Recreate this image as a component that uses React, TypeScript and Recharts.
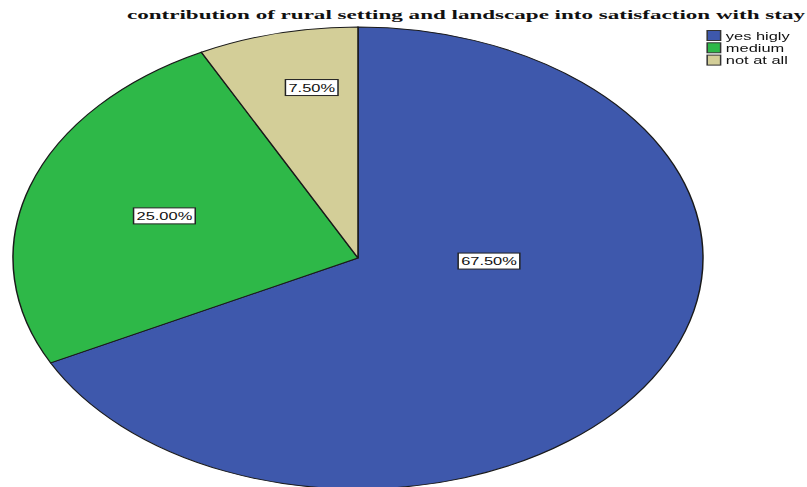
import { Cell, Legend, Pie, PieChart } from "recharts";

// the source image is a circular SPSS pie stretched sideways, so the whole chart is drawn narrow and scaled in x
const STRETCH = 1.4935;
const WIDTH = 807 / STRETCH;
const HEIGHT = 487;

const TITLE = "contribution of rural setting and landscape into satisfaction with stay";
const CATEGORIES = ["yes higly", "medium", "not at all"];
const COUNTS = [27, 10, 3];
const COLORS = ["#3E58AC", "#2EB848", "#D3CE98"];

const data = CATEGORIES.map((name, i) => ({ name, value: COUNTS[i] }));

// label placement (degrees to turn from the slice middle, fraction of radius)
const LABEL_NUDGE = [
  { turn: 29.5, reach: 0.38 },
  { turn: 0, reach: 0.59 },
  { turn: -3.2, reach: 0.75 },
];

const SANS = "'Liberation Sans', Arial, sans-serif";

function PctLabel(props: any) {
  const { cx, cy, midAngle, outerRadius, percent, index } = props;
  const nudge = LABEL_NUDGE[index] ?? { turn: 0, reach: 0.6 };
  const a = ((midAngle + nudge.turn) * Math.PI) / 180;
  const x = cx + outerRadius * nudge.reach * Math.cos(a);
  const y = cy - outerRadius * nudge.reach * Math.sin(a);
  const txt = `${(percent * 100).toFixed(2)}%`;
  const w = (txt.length - 2) * 6.1 + 12.9 + 4;
  return (
    <g>
      <rect x={x - w / 2} y={y - 8} width={w} height={16} fill="#fff" stroke="#222" strokeWidth={1} />
      <text x={x} y={y + 4} textAnchor="middle" fontSize={11} fontFamily={SANS} fill="#111">
        {txt}
      </text>
    </g>
  );
}

// legend keeps the data order (recharts sorts its payload by name)
function LegendBox() {
  return (
    <svg width={70} height={40} style={{ overflow: "visible" }}>
      {CATEGORIES.map((name, i) => (
        <g key={name}>
          <rect x={0.5} y={i * 12.3 + 0.5} width={9} height={10} fill={COLORS[i]} stroke="#333" strokeWidth={1} />
          <text x={13} y={i * 12.3 + 9.5} fontSize={11} fontFamily={SANS} fill="#111">
            {name}
          </text>
        </g>
      ))}
    </svg>
  );
}

export default function App() {
  return (
    <div
      style={{
        position: "absolute",
        left: 0,
        top: 0,
        width: WIDTH,
        height: HEIGHT,
        transform: `scaleX(${STRETCH})`,
        transformOrigin: "0 0",
        background: "#fff",
      }}
    >
      <PieChart width={WIDTH} height={HEIGHT} margin={{ top: 0, right: 0, bottom: 0, left: 0 }}>
        <text
          x={312}
          y={19}
          textAnchor="middle"
          fontSize={13}
          fontWeight="bold"
          fontFamily="'Liberation Serif', 'Times New Roman', serif"
          fill="#111"
          textLength={454}
          lengthAdjust="spacingAndGlyphs"
        >
          {TITLE}
        </text>
        <Pie
          data={data}
          dataKey="value"
          nameKey="name"
          cx={239.7}
          cy={258}
          outerRadius={231}
          startAngle={90}
          endAngle={-270}
          stroke="#1a1a1a"
          strokeWidth={1}
          label={PctLabel}
          labelLine={false}
          isAnimationActive={false}
        >
          {data.map((d, i) => (
            <Cell key={d.name} fill={COLORS[i]} />
          ))}
        </Pie>
        <Legend
          layout="vertical"
          align="right"
          verticalAlign="top"
          content={<LegendBox />}
          wrapperStyle={{ position: "absolute", left: 472.5, top: 30, width: 70, right: "auto" }}
        />
      </PieChart>
    </div>
  );
}
